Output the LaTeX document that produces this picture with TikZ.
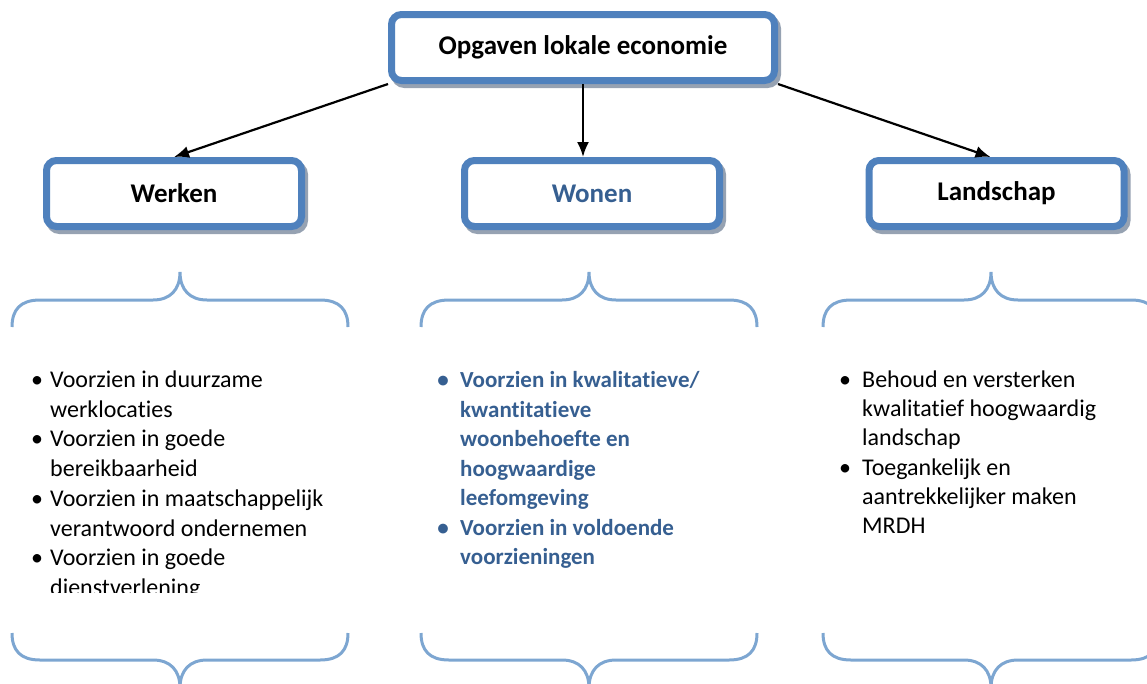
\documentclass[tikz,border=0pt]{standalone}
\usepackage{fontspec}
\setmainfont{Carlito}[Ligatures={NoCommon}]
\usepackage{tikz}
\usetikzlibrary{arrows.meta}
\definecolor{boxblue}{RGB}{79,129,189}
\definecolor{shadowgray}{RGB}{150,162,178}
\definecolor{braceblue}{RGB}{125,166,209}
\definecolor{wonenblue}{RGB}{54,95,145}
\newcommand{\bul}[1][26pt]{\makebox[#1]{\textbullet}}

\begin{document}
\begin{tikzpicture}[x=1pt,y=-1pt]
\tikzstyle{box}=[draw=boxblue,line width=7pt,rounded corners=10pt,fill=white,minimum width=255pt,minimum height=66pt,font=\fontsize{27}{32}\selectfont\bfseries,preaction={draw=shadowgray,line width=7pt,transform canvas={shift={(3pt,-4pt)}}}]
\tikzstyle{arr}=[line width=2.2pt,-{Latex[length=15pt,width=12pt]}]
\tikzstyle{brace}=[draw=braceblue,line width=3pt]
\tikzstyle{list}=[inner sep=0pt,anchor=base west,font=\fontsize{24}{29.4}\selectfont]
\clip (0,0) rectangle (1147,683);
\node[box,minimum width=383pt] (opgaven) at (583,47.5) {Opgaven lokale economie};
\node[box] (werken) at (174,193.5) {Werken};
\node[box,text=wonenblue] (wonen) at (592,193.5) {Wonen};
\node[box] (landschap) at (996.5,193.5) {Landschap};
\draw[arr] (opgaven.south west) -- (werken.north);
\draw[arr] (opgaven.south) -- (opgaven.south |- wonen.north);
\draw[arr] (opgaven.south east) -- ([xshift=-6pt]landschap.north);
% accolades boven en onder
\foreach \cx in {180,589,991}
\foreach \yy/\s in {300/1,660/-1}
  \draw[brace] ({\cx-168},{\yy+27*\s}) .. controls ({\cx-168},{\yy+10*\s}) and ({\cx-160},\yy) .. ({\cx-140},\yy) -- ({\cx-27},\yy) .. controls ({\cx-10},\yy) and (\cx,{\yy-10*\s}) .. (\cx,{\yy-28*\s}) .. controls (\cx,{\yy-10*\s}) and ({\cx+10},\yy) .. ({\cx+27},\yy) -- ({\cx+140},\yy) .. controls ({\cx+160},\yy) and ({\cx+168},{\yy+10*\s}) .. ({\cx+168},{\yy+27*\s});
\begin{scope}
\clip (0,0) rectangle (1147,592);
\node[list,font=\fontsize{24}{29.7}\selectfont] (werkenlist) at (24,387.5) {\begin{tabular}[t]{@{}l@{}l@{}}
\bul & Voorzien in duurzame\\
 & werklocaties\\
\bul & Voorzien in goede\\
 & bereikbaarheid\\
\bul & Voorzien in maatschappelijk\\
 & verantwoord ondernemen\\
\bul & Voorzien in goede\\
 & dienstverlening
\end{tabular}};
\end{scope}
\node[list,text=wonenblue,font=\fontsize{23}{29.5}\selectfont\bfseries] (wonenlist) at (426,387.5) {\begin{tabular}[t]{@{}l@{}l@{}}
\bul[34pt] & Voorzien in kwalitatieve/\\
 & kwantitatieve\\
 & woonbehoefte en\\
 & hoogwaardige\\
 & leefomgeving\\
\bul[34pt] & Voorzien in voldoende\\
 & voorzieningen
\end{tabular}};
\node[list,font=\fontsize{24}{29.2}\selectfont] (landschaplist) at (828,387.5) {\begin{tabular}[t]{@{}l@{}l@{}}
\bul[34pt] & Behoud en versterken\\
 & kwalitatief hoogwaardig\\
 & landschap\\
\bul[34pt] & Toegankelijk en\\
 & aantrekkelijker maken\\
 & MRDH
\end{tabular}};
\end{tikzpicture}
\end{document}
